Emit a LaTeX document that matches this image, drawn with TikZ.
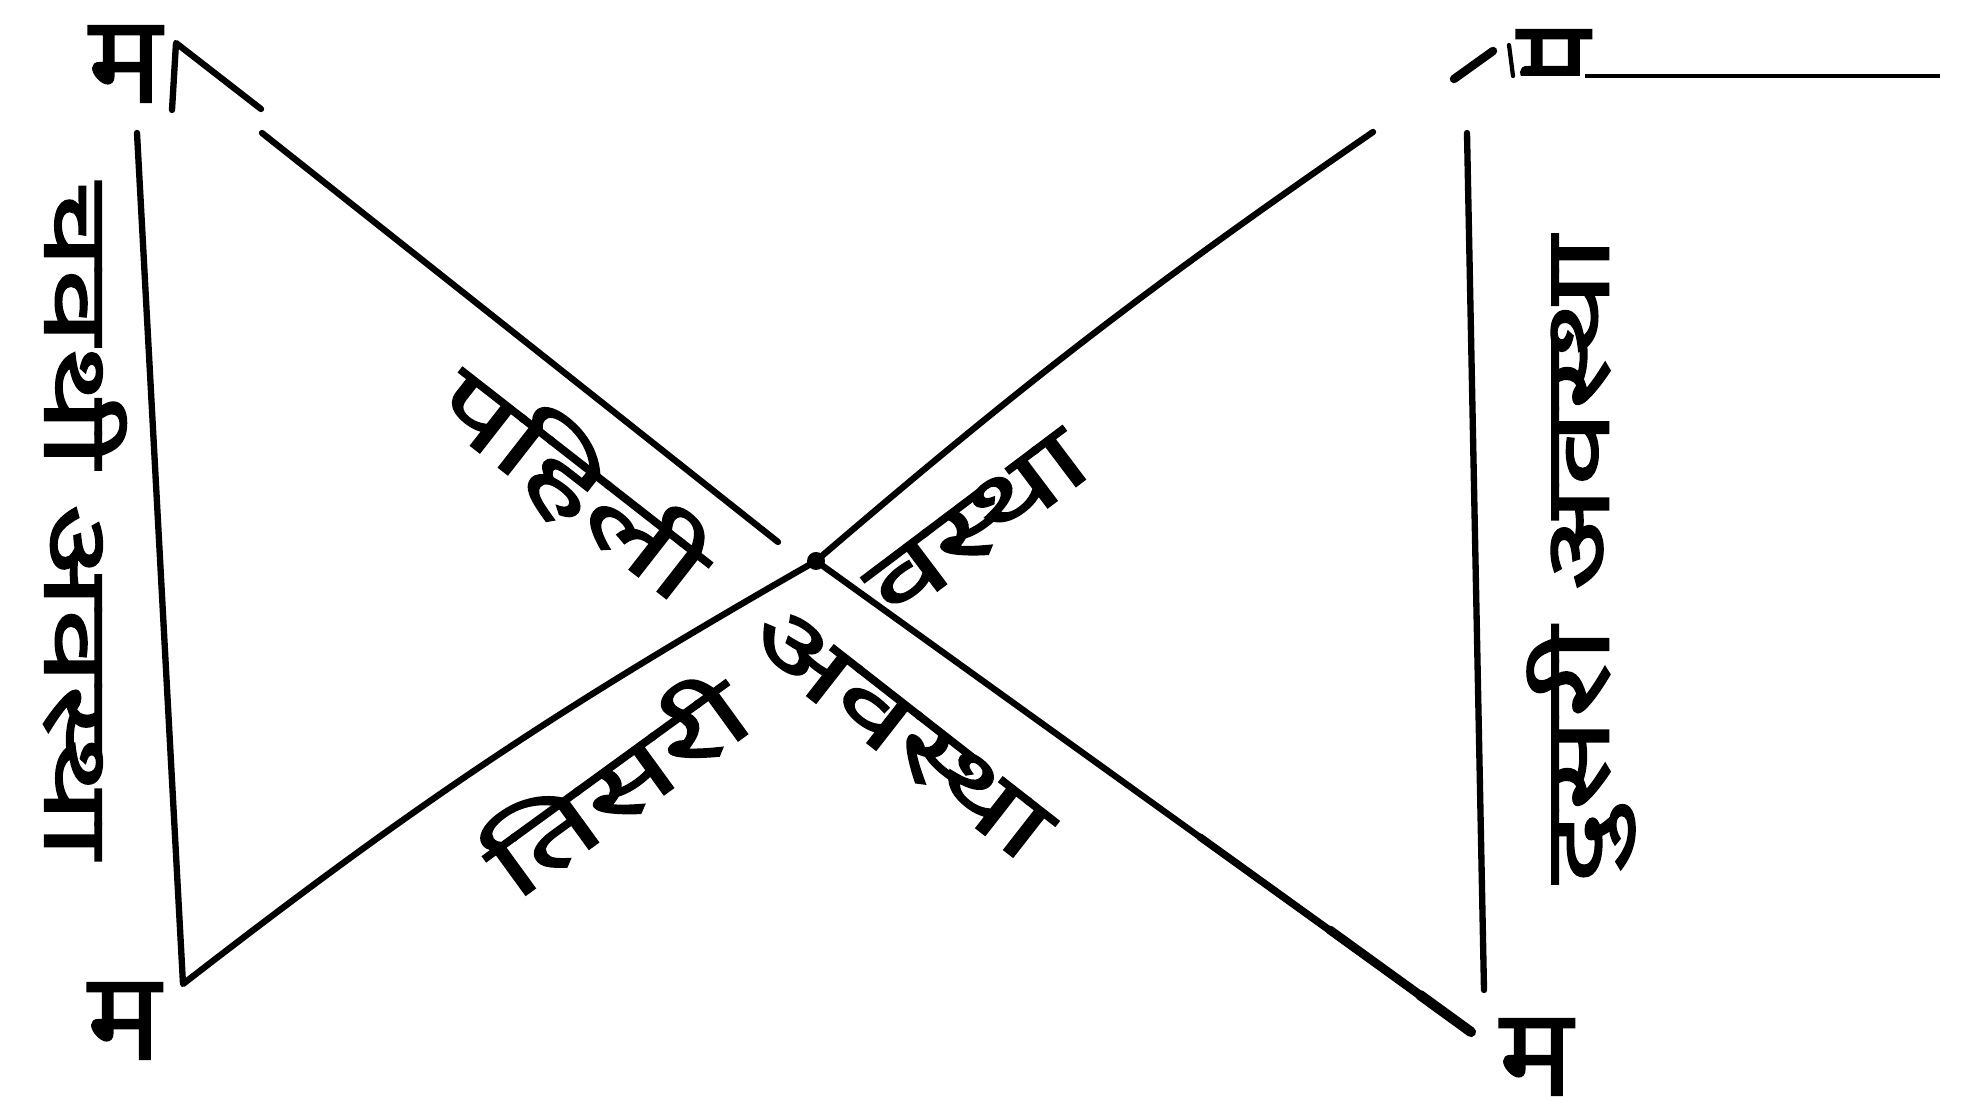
\documentclass[tikz,border=0pt]{standalone}
\usepackage{fontspec}
\usepackage{graphicx}
\newfontfamily\dev[Script=Devanagari,FakeBold=1.5]{Noto Sans}
\begin{document}
\begin{tikzpicture}[x=0.01cm,y=-0.01cm,
  ln/.style={line width=1.8pt, line cap=round, line join=round},
  corner/.style={font=\dev\fontsize{35}{40}\selectfont, inner sep=0pt},
  lbl/.style={font=\dev\fontsize{26}{30}\selectfont, inner sep=0pt}]
\useasboundingbox (0,0) rectangle (1963,1101);
% coordinates
\coordinate (TLtop) at (176,43);
\coordinate (TLtick) at (172,110);
\coordinate (TLd) at (261,109);
\coordinate (Lt) at (137,133);
\coordinate (BL) at (183,984);
\coordinate (ULs) at (262,133);
\coordinate (ULe) at (778,542);
\coordinate (K) at (816,561);
\coordinate (URe) at (1373,132);
\coordinate (BRa) at (1200,837);
\coordinate (BRm) at (1330,930);
\coordinate (BRn) at (1420,995);
\coordinate (BRe) at (1471,1032);
\coordinate (Rt) at (1467,133);
\coordinate (Rb) at (1484,990);
\coordinate (TRa) at (1454,79);
\coordinate (TRb) at (1493,51);
\coordinate (TRt1) at (1509,45);
\coordinate (TRt2) at (1513,76);
\coordinate (HL1) at (1585,76);
\coordinate (HL2) at (1940,76);
% lines
\draw[ln] (TLtick) -- (TLtop) -- (TLd);
\draw[ln] (Lt) -- (BL) to[bend left=4] (K);
\draw[ln] (ULs) -- (ULe);
\draw[ln] (K) to[bend left=3] (URe);
\draw[ln] (K) -- (BRe);
\draw[ln, line width=2.1pt] (BRa) -- (BRe);
\draw[ln, line width=2.5pt] (BRm) -- (BRe);
\draw[ln, line width=2.9pt] (BRn) -- (BRe);
\draw[ln] (Rt) -- (Rb);
\draw[ln, line width=2.4pt] (TRa) -- (TRb);
\draw[ln, line width=1.2pt] (TRt1) -- (TRt2);
\draw[line width=0.9pt] (HL1) -- (HL2);
\fill (K) circle (9);
% corner labels
\node[corner] (mTL) at (125,64) {म};
\node[corner] (mBL) at (124,1021) {म};
\node[corner] (mBR) at (1536,1057) {म};
\begin{scope}
\clip (1500,0) rectangle (1620,76);
\node[corner] (mTR) at (1553,68) {म};
\end{scope}
% side labels
\node[lbl, rotate=-90] (lt) at (85,520) {\scalebox{1.5}[1]{चवथी अवस्था}};
\node[lbl, rotate=90] (rt) at (1581,560) {\scalebox{1.5}[1]{दुसरी अवस्था}};
% diagonal labels
\node[lbl, rotate=-38] (p1) at (573,482) {\scalebox{1.5}[1]{पहिली}};
\node[lbl, rotate=37] (p2) at (978,525) {\scalebox{1.5}[1]{वस्था}};
\node[lbl, rotate=36] (p3) at (613,782) {\scalebox{1.5}[1]{तिसरी}};
\node[lbl, rotate=-38] (p4) at (900,733) {\scalebox{1.5}[1]{अवस्था}};
\end{tikzpicture}
\end{document}
